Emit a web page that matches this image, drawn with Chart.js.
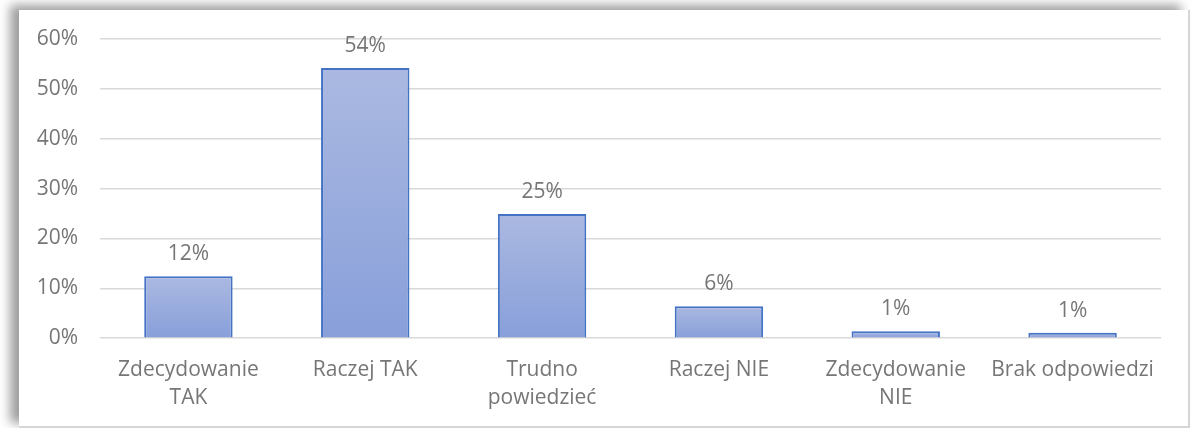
<!DOCTYPE html>
<html>
<head>
<meta charset="utf-8">
<script src="https://cdn.jsdelivr.net/npm/chart.js@4/dist/chart.umd.min.js"></script>
<style>
  html, body { margin: 0; padding: 0; background: #fff; }
  body { width: 1192px; height: 428px; position: relative; overflow: hidden; }
  .frame {
    position: absolute; left: 19px; top: 10px; width: 1169px; height: 416px;
    background: #fff; border-right: 2px solid #d6d6d6; border-bottom: 2px solid #d6d6d6;
    box-shadow: -9px -5px 10px rgba(0, 0, 0, 0.38);
  }
  canvas { display: block; }
</style>
</head>
<body>
<div class="frame">
  <canvas id="surveyChart" width="1169" height="416"></canvas>
</div>
<script>
// Categories, values (in %) and axis ticks
const categories = [
  ['Zdecydowanie', 'TAK'],
  'Raczej TAK',
  ['Trudno', 'powiedzieć'],
  'Raczej NIE',
  ['Zdecydowanie', 'NIE'],
  'Brak odpowiedzi'
];
const shares = [12.4, 54.2, 24.9, 6.4, 1.4, 1.1];
const yTicks = [0, 10, 20, 30, 40, 50, 60];

const textColor = '#767676';
const fontFamily = '"Open Sans", sans-serif';
const fontSize = 21;

// Vertical gradient for each bar, light at the top, darker at the base
function barGradient(context) {
  const chart = context.chart;
  const { ctx, chartArea, scales } = chart;
  if (!chartArea || context.dataIndex === undefined) return '#98acde';
  const top = scales.y.getPixelForValue(context.raw);
  const bottom = scales.y.getPixelForValue(0);
  const g = ctx.createLinearGradient(0, top, 0, Math.max(bottom, top + 1));
  g.addColorStop(0, '#abb9e1');
  g.addColorStop(1, '#889fda');
  return g;
}

// Percent labels above each bar
const valueLabels = {
  id: 'valueLabels',
  afterDatasetsDraw(chart) {
    const { ctx } = chart;
    const meta = chart.getDatasetMeta(0);
    ctx.save();
    ctx.font = fontSize + 'px ' + fontFamily;
    ctx.fillStyle = textColor;
    ctx.textAlign = 'center';
    ctx.textBaseline = 'alphabetic';
    meta.data.forEach((bar, i) => {
      ctx.fillText(Math.round(shares[i]) + '%', bar.x, bar.y - 16);
    });
    ctx.restore();
  }
};

document.addEventListener('DOMContentLoaded', () => {
  const ctx = document.getElementById('surveyChart');

  new Chart(ctx, {
    type: 'bar',
    data: {
      labels: categories,
      datasets: [{
        data: shares,
        backgroundColor: barGradient,
        borderColor: '#4472c4',
        borderWidth: 2,
        borderSkipped: 'bottom',
        categoryPercentage: 1,
        barPercentage: 0.5
      }]
    },
    options: {
      responsive: false,
      animation: false,
      layout: {
        padding: { left: 0, right: 27, top: 29, bottom: 4 }
      },
      plugins: {
        legend: { display: false },
        tooltip: { enabled: false }
      },
      scales: {
        y: {
          min: 0,
          max: 60,
          afterBuildTicks: scale => {
            scale.ticks = yTicks.map(v => ({ value: v }));
          },
          afterFit: scale => {
            scale.width = 81;
            scale.paddingTop = 0;
            scale.paddingBottom = 0;
          },
          border: { display: false },
          grid: {
            color: '#d9d9d9',
            lineWidth: 1.5,
            drawTicks: false
          },
          ticks: {
            padding: 22,
            color: textColor,
            font: { family: fontFamily, size: fontSize },
            callback: v => v + '%'
          }
        },
        x: {
          border: { display: false },
          grid: { display: false },
          ticks: {
            padding: 10,
            maxRotation: 0,
            autoSkip: false,
            color: textColor,
            font: { family: fontFamily, size: fontSize, lineHeight: 1.33 }
          }
        }
      }
    },
    plugins: [valueLabels]
  });
});
</script>
</body>
</html>
